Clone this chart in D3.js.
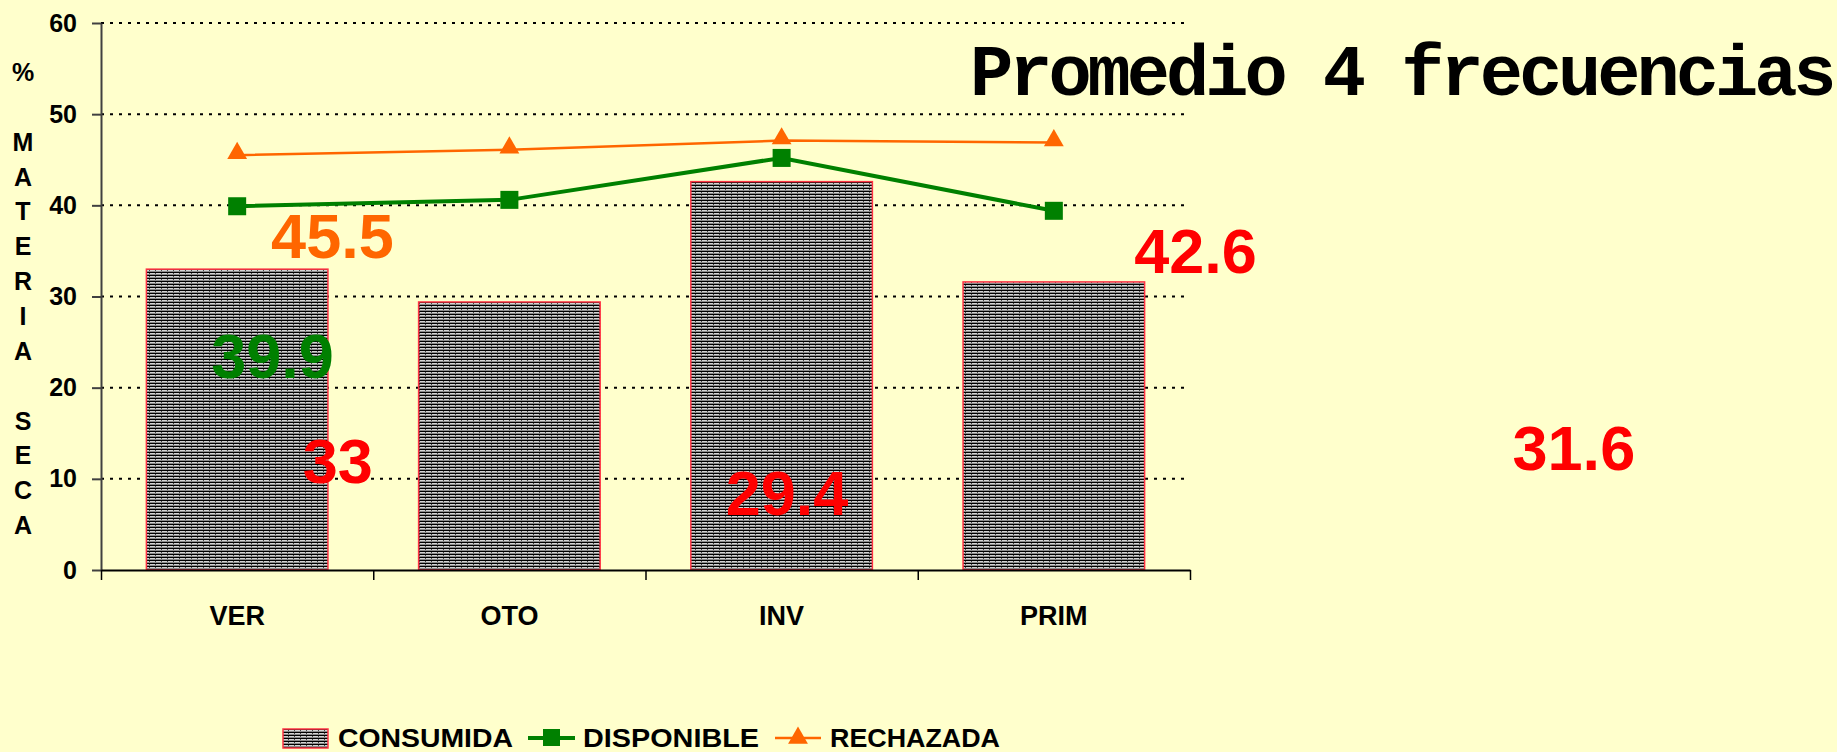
<!DOCTYPE html>
<html>
<head>
<meta charset="utf-8">
<script src="https://cdn.jsdelivr.net/npm/d3@7"></script>
<style>
    body { margin: 0; background: #ffffff; }
    svg { display: block; }
</style>
</head>
<body>
<svg id="chart"></svg>
<script>
const categories = ['VER', 'OTO', 'INV', 'PRIM'];
const consumida = [33, 29.4, 42.6, 31.6];
const disponible = [39.9, 40.6, 45.2, 39.4];
const rechazada = [45.5, 46.1, 47.1, 46.9];
const yTicks = [0, 10, 20, 30, 40, 50, 60];
const yTitle = ['%', '', 'M', 'A', 'T', 'E', 'R', 'I', 'A', '', 'S', 'E', 'C', 'A'];
const seriesNames = ['CONSUMIDA', 'DISPONIBLE', 'RECHAZADA'];

// value labels, left where the original slide had them (band units / value units)
const labelText = ['45.5', '39.9', '33', '29.4', '42.6', '31.6'];
const labelSeries = [2, 1, 0, 0, 0, 0];
const labelBand = [0.85, 0.63, 0.87, 2.52, 4.02, 5.41];
const labelValue = [34.2, 21.1, 9.5, 6.0, 32.6, 11.0];

const W = 1844, H = 752;
const margin = {left: 101, top: 23, right: 654, bottom: 182};
const width = W - margin.left - margin.right;
const height = H - margin.top - margin.bottom;

const colors = {bg: '#ffffcc', green: '#008000', orange: '#ff6600', red: '#ff0000', barEdge: '#ff3344'};
const labelColors = [colors.red, colors.green, colors.orange];
const font = 'Liberation Sans, Arial, sans-serif';

const svg = d3.select('#chart').attr('width', W).attr('height', H);
svg.append('rect').attr('width', 1837).attr('height', H).attr('fill', colors.bg);

// hatch used by the bars
const pat = svg.append('defs').append('pattern')
    .attr('id', 'hatch').attr('patternUnits', 'userSpaceOnUse')
    .attr('width', 6).attr('height', 3);
pat.append('rect').attr('width', 6).attr('height', 3).attr('fill', '#d4d4d4');
pat.append('rect').attr('width', 6).attr('height', 1).attr('fill', '#000');
pat.append('rect').attr('y', 2).attr('width', 6).attr('height', 1).attr('fill', '#8a8a8a');
pat.append('rect').attr('x', 0).attr('y', 1).attr('width', 1).attr('height', 1).attr('fill', '#444');

const g = svg.append('g')
    .attr('transform', 'translate(' + margin.left + ',' + margin.top + ')');

const x = d3.scaleBand().domain(categories).range([0, width])
    .paddingInner(0.333).paddingOuter(0.1667);
const xl = d3.scaleLinear().domain([0, categories.length]).range([0, width]);
const y = d3.scaleLinear().domain([0, 60]).range([height, 0]);
const cx = c => x(c) + x.bandwidth() / 2;

// grid
g.append('g').selectAll('line')
    .data(yTicks.filter(d => d > 0))
    .join('line')
    .attr('x1', 0).attr('x2', width)
    .attr('y1', d => y(d)).attr('y2', d => y(d))
    .attr('stroke', '#000').attr('stroke-width', 2)
    .attr('stroke-dasharray', '3,6');

// bars
g.append('g').selectAll('rect')
    .data(categories)
    .join('rect')
    .attr('x', c => x(c))
    .attr('width', x.bandwidth())
    .attr('y', (c, i) => y(consumida[i]))
    .attr('height', (c, i) => height - y(consumida[i]))
    .attr('fill', 'url(#hatch)')
    .attr('stroke', colors.barEdge).attr('stroke-width', 1.5);

// axes
const yAxis = g.append('g')
    .call(d3.axisLeft(y).tickValues(yTicks).tickSize(9).tickSizeOuter(0).tickPadding(15));
yAxis.select('.domain').attr('stroke', '#404040').attr('stroke-width', 2);
yAxis.selectAll('.tick line').attr('stroke', '#404040').attr('stroke-width', 2);

const xAxis = g.append('g')
    .attr('transform', 'translate(0,' + height + ')')
    .call(d3.axisBottom(xl).tickValues(d3.range(categories.length + 1))
        .tickFormat('').tickSize(10).tickSizeOuter(0));
xAxis.select('.domain').attr('stroke', '#000').attr('stroke-width', 2);
xAxis.selectAll('.tick line').attr('stroke', '#000').attr('stroke-width', 1.5);

svg.selectAll('.tick text')
    .attr('font-family', font)
    .attr('font-weight', 'bold').attr('font-size', 25).attr('fill', '#000');

g.append('g').selectAll('text')
    .data(categories)
    .join('text')
    .attr('x', cx).attr('y', height + 55)
    .attr('text-anchor', 'middle')
    .attr('font-family', font)
    .attr('font-weight', 'bold').attr('font-size', 27)
    .text(c => c);

// vertical axis title, one letter per line
svg.append('g').selectAll('text')
    .data(yTitle)
    .join('text')
    .attr('x', 23).attr('y', (d, i) => 81 + i * 34.85)
    .attr('text-anchor', 'middle')
    .attr('font-family', font)
    .attr('font-weight', 'bold').attr('font-size', 25)
    .text(d => d);

// lines
const line = d3.line().x((d, i) => cx(categories[i])).y(d => y(d));

g.append('path').datum(rechazada)
    .attr('d', line).attr('fill', 'none')
    .attr('stroke', colors.orange).attr('stroke-width', 2.5);
const tri = d3.symbol().type(d3.symbolTriangle).size(170);
g.append('g').selectAll('path')
    .data(rechazada)
    .join('path')
    .attr('d', tri)
    .attr('transform', (d, i) => 'translate(' + cx(categories[i]) + ',' + (y(d) - 2) + ')')
    .attr('fill', colors.orange);

g.append('path').datum(disponible)
    .attr('d', line).attr('fill', 'none')
    .attr('stroke', colors.green).attr('stroke-width', 4);
g.append('g').selectAll('rect')
    .data(disponible)
    .join('rect')
    .attr('x', (d, i) => cx(categories[i]) - 9)
    .attr('y', d => y(d) - 9)
    .attr('width', 18).attr('height', 18)
    .attr('fill', colors.green);

// value labels
g.append('g').selectAll('text')
    .data(labelText)
    .join('text')
    .attr('x', (d, i) => xl(labelBand[i]))
    .attr('y', (d, i) => y(labelValue[i]))
    .attr('text-anchor', 'middle')
    .attr('font-family', font)
    .attr('font-weight', 'bold').attr('font-size', 63)
    .attr('fill', (d, i) => labelColors[labelSeries[i]])
    .text(d => d);

// title
svg.append('text')
    .attr('x', 970).attr('y', 95)
    .attr('font-family', 'Liberation Mono, Courier New, monospace')
    .attr('font-weight', 'bold').attr('font-size', 72)
    .attr('letter-spacing', -4)
    .text('Promedio 4 frecuencias');

// legend
const legend = svg.append('g').attr('transform', 'translate(0,747)');
const legendX = [283, 528, 775];
const legendTextX = [338, 583, 830];
const legendTextW = [175, 176, 170];

legend.append('rect')
    .attr('x', legendX[0]).attr('y', -18).attr('width', 45).attr('height', 19)
    .attr('fill', 'url(#hatch)').attr('stroke', colors.barEdge).attr('stroke-width', 1.5);
legend.append('line')
    .attr('x1', legendX[1]).attr('x2', legendX[1] + 47).attr('y1', -9).attr('y2', -9)
    .attr('stroke', colors.green).attr('stroke-width', 4);
legend.append('rect')
    .attr('x', legendX[1] + 15).attr('y', -18).attr('width', 17).attr('height', 17)
    .attr('fill', colors.green);
legend.append('line')
    .attr('x1', legendX[2]).attr('x2', legendX[2] + 46).attr('y1', -9).attr('y2', -9)
    .attr('stroke', colors.orange).attr('stroke-width', 2.5);
legend.append('path')
    .attr('d', tri)
    .attr('transform', 'translate(' + (legendX[2] + 23) + ',-9)')
    .attr('fill', colors.orange);

legend.selectAll('text.lbl')
    .data(seriesNames)
    .join('text')
    .attr('class', 'lbl')
    .attr('x', (d, i) => legendTextX[i]).attr('y', 0)
    .attr('font-family', font).attr('font-weight', 'bold').attr('font-size', 26)
    .attr('textLength', (d, i) => legendTextW[i]).attr('lengthAdjust', 'spacingAndGlyphs')
    .text(d => d);
</script>
</body>
</html>
